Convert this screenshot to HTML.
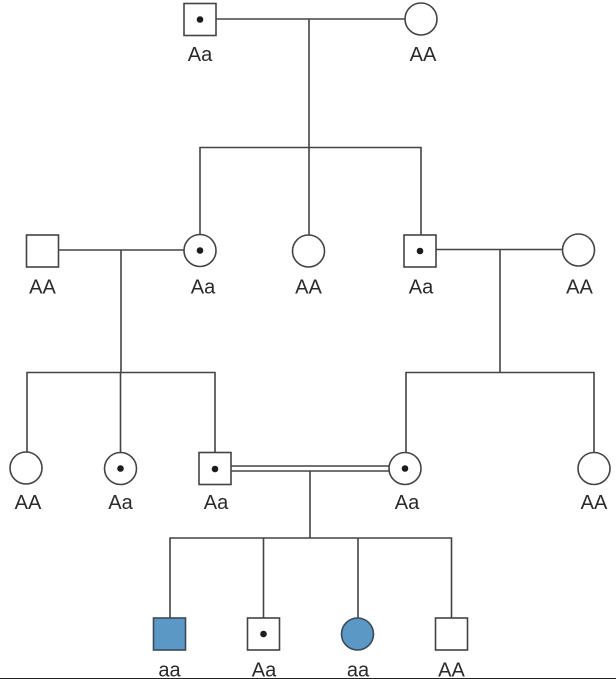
<!DOCTYPE html>
<html>
<head>
<meta charset="utf-8">
<style>
html,body{margin:0;padding:0;background:#fff;width:616px;height:679px;overflow:hidden}
svg{display:block}
text{font-family:"Liberation Sans",sans-serif;font-size:20px;fill:#2a2a2a;text-anchor:middle}
.l{stroke:#444;stroke-width:1.6;fill:none}
.s{stroke:#444;stroke-width:1.6;fill:#fff}
.f{stroke:#3a4a58;stroke-width:1.6;fill:#5c98c5}
.d{fill:#1c1c1c}
</style>
</head>
<body>
<svg width="616" height="679" viewBox="0 0 616 679" xmlns="http://www.w3.org/2000/svg">
<!-- connectors -->
<path class="l" d="M216 19H405M309 19V147.5M200 235V147.5H421V235M309 147.5V235"/>
<path class="l" d="M58.500 250H184M121 250V372.500M27 452V372.500H215V453M120.500 372.500V453"/>
<path class="l" d="M436 249.500H563M500 249.500V372.500M406 452V372.500H594V453"/>
<path class="l" d="M231 466H390M231 471H390M310 471V538M170 618V538H451.500V618M263.500 538V618M358 538V618"/>
<!-- row 1 -->
<rect class="s" x="184" y="3.500" width="32" height="32"/><circle class="d" cx="200" cy="19.500" r="3.300"/>
<circle class="s" cx="421" cy="19" r="16"/>
<!-- row 2 -->
<rect class="s" x="26.500" y="235" width="32" height="32"/>
<circle class="s" cx="200" cy="250.500" r="16"/><circle class="d" cx="200" cy="250.500" r="3.300"/>
<circle class="s" cx="308.500" cy="251" r="16"/>
<rect class="s" x="404" y="235" width="32" height="32"/><circle class="d" cx="420" cy="251" r="3.300"/>
<circle class="s" cx="578.500" cy="250" r="16"/>
<!-- row 3 -->
<circle class="s" cx="26" cy="468" r="16"/>
<circle class="s" cx="120.500" cy="468.500" r="16"/><circle class="d" cx="120.500" cy="468.500" r="3.300"/>
<rect class="s" x="199" y="452.500" width="32" height="32"/><circle class="d" cx="215" cy="469" r="3.300"/>
<circle class="s" cx="405" cy="468.500" r="16"/><circle class="d" cx="405" cy="468.500" r="3.300"/>
<circle class="s" cx="594" cy="468.500" r="16"/>
<!-- row 4 -->
<rect class="f" x="153.500" y="618" width="32" height="32"/>
<rect class="s" x="247.500" y="618" width="32" height="32"/><circle class="d" cx="263.500" cy="634" r="3.300"/>
<circle class="f" cx="357.500" cy="634" r="16"/>
<rect class="s" x="435.500" y="618" width="32" height="32"/>
<!-- labels -->
<text x="200" y="61">Aa</text><text x="423" y="61">AA</text>
<text x="42.500" y="293.500">AA</text><text x="203" y="293.500">Aa</text><text x="308.500" y="293.500">AA</text><text x="421" y="293.500">Aa</text><text x="579.500" y="293.500">AA</text>
<text x="28" y="509">AA</text><text x="120.500" y="509">Aa</text><text x="216" y="509">Aa</text><text x="407" y="509">Aa</text><text x="594" y="509">AA</text>
<text x="169.500" y="676.500">aa</text><text x="264" y="676.500">Aa</text><text x="358" y="676.500">aa</text><text x="451.500" y="676.500">AA</text>
<rect x="0" y="678" width="616" height="1" fill="#222"/>
</svg>
</body>
</html>
